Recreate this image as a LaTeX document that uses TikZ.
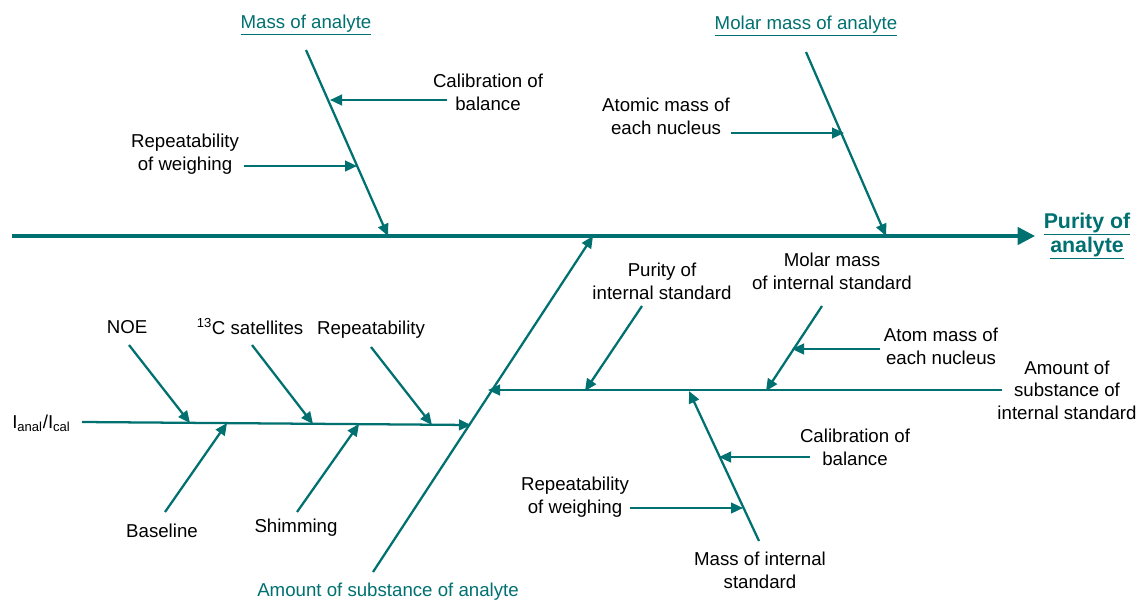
\documentclass[tikz,border=0pt]{standalone}
\usepackage{fontspec}
\setmainfont{Liberation Sans}
\usetikzlibrary{arrows.meta}
\definecolor{fish}{RGB}{0,112,112}
\tikzset{
  lbl/.style={font=\fontsize{14}{17}\selectfont, align=center, inner sep=0pt, text=black},
  cat/.style={font=\fontsize{14}{17}\selectfont, align=center, inner sep=0pt, text=fish},
  bone/.style={draw=fish, line width=1.7pt, -{Triangle[length=9pt,width=8pt]}},
  plainbone/.style={draw=fish, line width=1.7pt},
  spine/.style={draw=fish, line width=2.6pt, -{Triangle[length=13pt,width=13pt]}}
}
\begin{document}
\begin{tikzpicture}[x=0.75pt,y=-0.75pt]
\useasboundingbox (0,0) rectangle (1141,600);
% main spine
\coordinate (s0) at (12,236);
\coordinate (s1) at (1035,236);
\draw[spine] (s0) -- (s1);
\node[font=\fontsize{16}{18}\selectfont\bfseries, text=fish, align=center, inner sep=0pt] (purity) at (1087,236) {\underline{Purity of}\\\underline{analyte}};

% Mass of analyte
\node[cat] (mass) at (306,25) {\underline{Mass of analyte}};
\coordinate (m0) at (306,50);
\coordinate (m1) at (388,236);
\draw[bone] (m0) -- (m1);
\node[lbl] (calA) at (488,92) {Calibration of\\balance};
\coordinate (ca0) at (447,100);
\coordinate (ca1) at (330,100);
\draw[bone] (ca0) -- (ca1);
\node[lbl] (repA) at (185,154) {Repeatability\\of weighing};
\coordinate (ra0) at (244,166);
\coordinate (ra1) at (357,166);
\draw[bone] (ra0) -- (ra1);

% Molar mass of analyte
\node[cat] (molar) at (806,26) {\underline{Molar mass of analyte}};
\coordinate (mm0) at (806,52);
\coordinate (mm1) at (886,236);
\draw[bone] (mm0) -- (mm1);
\node[lbl] (atomA) at (666,116) {Atomic mass of\\each nucleus};
\coordinate (aa0) at (731,133);
\coordinate (aa1) at (844,133);
\draw[bone] (aa0) -- (aa1);

% Amount of substance of analyte
\node[cat] (amount) at (388,592) {Amount of substance of analyte};
\coordinate (am0) at (373,572);
\coordinate (am1) at (593,236);
\draw[bone] (am0) -- (am1);

% internal standard branch
\coordinate (is0) at (1002,390);
\coordinate (is1) at (488,390);
\draw[bone] (is0) -- (is1);
\node[lbl] (amountIS) at (1067,390) {Amount of\\substance of\\internal standard};
\node[lbl] (purIS) at (662,281) {Purity of\\internal standard};
\coordinate (p0) at (642,306);
\coordinate (p1) at (585,391);
\draw[bone] (p0) -- (p1);
\node[lbl] (molIS) at (832,271) {Molar mass\\of internal standard};
\coordinate (mi0) at (822,306);
\coordinate (mi1) at (766,391);
\draw[bone] (mi0) -- (mi1);
\node[lbl] (atomIS) at (941,346) {Atom mass of\\each nucleus};
\coordinate (ai0) at (880,349);
\coordinate (ai1) at (792,349);
\draw[bone] (ai0) -- (ai1);

% mass of internal standard
\node[lbl] (massIS) at (760,570) {Mass of internal\\standard};
\coordinate (ms0) at (759,541);
\coordinate (ms1) at (689,391);
\draw[bone] (ms0) -- (ms1);
\node[lbl] (calIS) at (855,447) {Calibration of\\balance};
\coordinate (ci0) at (810,457);
\coordinate (ci1) at (719,457);
\draw[bone] (ci0) -- (ci1);
\node[lbl] (repIS) at (575,497) {Repeatability\\of weighing};
\coordinate (ri0) at (630,508);
\coordinate (ri1) at (743,508);
\draw[bone] (ri0) -- (ri1);

% intensity ratio branch
\node[lbl, anchor=west] (ratio) at (12,423) {I\textsubscript{anal}/I\textsubscript{cal}};
\coordinate (r0) at (82,422);
\coordinate (r1) at (471,425);
\draw[bone] (r0) -- (r1);
\node[lbl] (noe) at (127,327) {NOE};
\coordinate (n0) at (129,345);
\coordinate (n1) at (190,423);
\draw[bone] (n0) -- (n1);
\node[lbl] (csat) at (250,327) {\textsuperscript{13}C satellites};
\coordinate (c0) at (252,345);
\coordinate (c1) at (313,424);
\draw[bone] (c0) -- (c1);
\node[lbl] (rep) at (371,330) {Repeatability};
\coordinate (rp0) at (371,347);
\coordinate (rp1) at (432,425);
\draw[bone] (rp0) -- (rp1);
\node[lbl] (base) at (162,531) {Baseline};
\coordinate (b0) at (165,512);
\coordinate (b1) at (227,423);
\draw[bone] (b0) -- (b1);
\node[lbl] (shim) at (296,528) {Shimming};
\coordinate (sh0) at (297,512);
\coordinate (sh1) at (359,424);
\draw[bone] (sh0) -- (sh1);
\end{tikzpicture}
\end{document}
